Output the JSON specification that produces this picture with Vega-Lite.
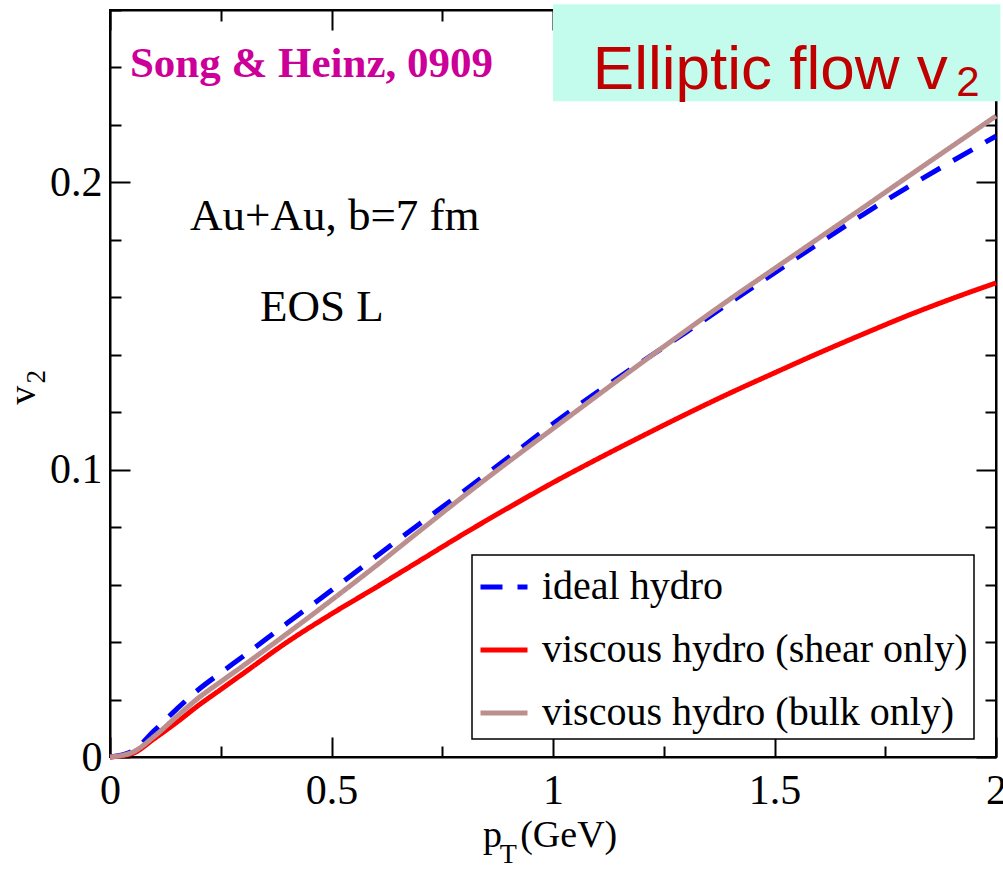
{
  "$schema": "https://vega.github.io/schema/vega-lite/v6.json",
  "width": 886,
  "height": 747,
  "autosize": {"type": "none"},
  "padding": {"left": 110, "top": 10, "right": 7, "bottom": 112},
  "background": "white",
  "config": {
    "view": {"stroke": "black", "strokeWidth": 2},
    "axis": {
      "domainColor": "black",
      "domainWidth": 2,
      "tickColor": "black",
      "tickWidth": 2,
      "grid": false,
      "labelFont": "Liberation Serif",
      "labelFontSize": 42,
      "labelColor": "black",
      "title": null
    },
    "legend": {
      "labelFont": "Liberation Serif",
      "labelFontSize": 40,
      "labelColor": "black",
      "labelLimit": 0,
      "strokeColor": "black",
      "fillColor": "white",
      "strokeWidth": 1.5
    }
  },
  "datasets": {
    "curves": [
      {"pT": 0.0, "v2": 0.0, "model": "ideal hydro"},
      {"pT": 0.05, "v2": 0.0020, "model": "ideal hydro"},
      {"pT": 0.1, "v2": 0.0092, "model": "ideal hydro"},
      {"pT": 0.15, "v2": 0.0166, "model": "ideal hydro"},
      {"pT": 0.2, "v2": 0.0235, "model": "ideal hydro"},
      {"pT": 0.25, "v2": 0.0293, "model": "ideal hydro"},
      {"pT": 0.3, "v2": 0.0350, "model": "ideal hydro"},
      {"pT": 0.4, "v2": 0.0466, "model": "ideal hydro"},
      {"pT": 0.5, "v2": 0.0580, "model": "ideal hydro"},
      {"pT": 0.6, "v2": 0.0697, "model": "ideal hydro"},
      {"pT": 0.7, "v2": 0.0813, "model": "ideal hydro"},
      {"pT": 0.8, "v2": 0.0927, "model": "ideal hydro"},
      {"pT": 0.9, "v2": 0.1043, "model": "ideal hydro"},
      {"pT": 1.0, "v2": 0.1160, "model": "ideal hydro"},
      {"pT": 1.1, "v2": 0.1270, "model": "ideal hydro"},
      {"pT": 1.2, "v2": 0.1375, "model": "ideal hydro"},
      {"pT": 1.3, "v2": 0.1478, "model": "ideal hydro"},
      {"pT": 1.4, "v2": 0.1582, "model": "ideal hydro"},
      {"pT": 1.5, "v2": 0.1685, "model": "ideal hydro"},
      {"pT": 1.6, "v2": 0.1788, "model": "ideal hydro"},
      {"pT": 1.7, "v2": 0.1888, "model": "ideal hydro"},
      {"pT": 1.8, "v2": 0.1983, "model": "ideal hydro"},
      {"pT": 1.9, "v2": 0.2073, "model": "ideal hydro"},
      {"pT": 2.0, "v2": 0.2161, "model": "ideal hydro"},

      {"pT": 0.0, "v2": 0.0, "model": "viscous hydro (shear only)"},
      {"pT": 0.05, "v2": 0.0012, "model": "viscous hydro (shear only)"},
      {"pT": 0.1, "v2": 0.0064, "model": "viscous hydro (shear only)"},
      {"pT": 0.15, "v2": 0.0120, "model": "viscous hydro (shear only)"},
      {"pT": 0.2, "v2": 0.0180, "model": "viscous hydro (shear only)"},
      {"pT": 0.25, "v2": 0.0235, "model": "viscous hydro (shear only)"},
      {"pT": 0.3, "v2": 0.0290, "model": "viscous hydro (shear only)"},
      {"pT": 0.4, "v2": 0.0400, "model": "viscous hydro (shear only)"},
      {"pT": 0.5, "v2": 0.0498, "model": "viscous hydro (shear only)"},
      {"pT": 0.6, "v2": 0.0590, "model": "viscous hydro (shear only)"},
      {"pT": 0.7, "v2": 0.0684, "model": "viscous hydro (shear only)"},
      {"pT": 0.8, "v2": 0.0778, "model": "viscous hydro (shear only)"},
      {"pT": 0.9, "v2": 0.0868, "model": "viscous hydro (shear only)"},
      {"pT": 1.0, "v2": 0.0955, "model": "viscous hydro (shear only)"},
      {"pT": 1.1, "v2": 0.1037, "model": "viscous hydro (shear only)"},
      {"pT": 1.2, "v2": 0.1116, "model": "viscous hydro (shear only)"},
      {"pT": 1.3, "v2": 0.1193, "model": "viscous hydro (shear only)"},
      {"pT": 1.4, "v2": 0.1267, "model": "viscous hydro (shear only)"},
      {"pT": 1.5, "v2": 0.1337, "model": "viscous hydro (shear only)"},
      {"pT": 1.6, "v2": 0.1406, "model": "viscous hydro (shear only)"},
      {"pT": 1.7, "v2": 0.1472, "model": "viscous hydro (shear only)"},
      {"pT": 1.8, "v2": 0.1536, "model": "viscous hydro (shear only)"},
      {"pT": 1.9, "v2": 0.1595, "model": "viscous hydro (shear only)"},
      {"pT": 2.0, "v2": 0.1650, "model": "viscous hydro (shear only)"},

      {"pT": 0.0, "v2": 0.0, "model": "viscous hydro (bulk only)"},
      {"pT": 0.05, "v2": 0.0016, "model": "viscous hydro (bulk only)"},
      {"pT": 0.1, "v2": 0.0072, "model": "viscous hydro (bulk only)"},
      {"pT": 0.15, "v2": 0.0140, "model": "viscous hydro (bulk only)"},
      {"pT": 0.2, "v2": 0.0206, "model": "viscous hydro (bulk only)"},
      {"pT": 0.25, "v2": 0.0262, "model": "viscous hydro (bulk only)"},
      {"pT": 0.3, "v2": 0.0317, "model": "viscous hydro (bulk only)"},
      {"pT": 0.4, "v2": 0.0430, "model": "viscous hydro (bulk only)"},
      {"pT": 0.5, "v2": 0.0546, "model": "viscous hydro (bulk only)"},
      {"pT": 0.6, "v2": 0.0665, "model": "viscous hydro (bulk only)"},
      {"pT": 0.7, "v2": 0.0788, "model": "viscous hydro (bulk only)"},
      {"pT": 0.8, "v2": 0.0910, "model": "viscous hydro (bulk only)"},
      {"pT": 0.9, "v2": 0.1028, "model": "viscous hydro (bulk only)"},
      {"pT": 1.0, "v2": 0.1143, "model": "viscous hydro (bulk only)"},
      {"pT": 1.1, "v2": 0.1258, "model": "viscous hydro (bulk only)"},
      {"pT": 1.2, "v2": 0.1372, "model": "viscous hydro (bulk only)"},
      {"pT": 1.3, "v2": 0.1484, "model": "viscous hydro (bulk only)"},
      {"pT": 1.4, "v2": 0.1594, "model": "viscous hydro (bulk only)"},
      {"pT": 1.5, "v2": 0.1700, "model": "viscous hydro (bulk only)"},
      {"pT": 1.6, "v2": 0.1806, "model": "viscous hydro (bulk only)"},
      {"pT": 1.7, "v2": 0.1912, "model": "viscous hydro (bulk only)"},
      {"pT": 1.8, "v2": 0.2019, "model": "viscous hydro (bulk only)"},
      {"pT": 1.9, "v2": 0.2125, "model": "viscous hydro (bulk only)"},
      {"pT": 2.0, "v2": 0.2231, "model": "viscous hydro (bulk only)"}
    ]
  },
  "layer": [
    {
      "data": {"name": "curves"},
      "mark": {"type": "line", "strokeWidth": 5, "interpolate": "monotone"},
      "encoding": {
        "x": {
          "field": "pT", "type": "quantitative",
          "scale": {"domain": [0, 2], "nice": false, "zero": false},
          "axis": {
            "orient": "bottom",
            "values": [0, 0.25, 0.5, 0.75, 1, 1.25, 1.5, 1.75, 2],
            "tickSize": {"condition": {"test": "datum.value == 0 || datum.value == 0.5 || datum.value == 1 || datum.value == 1.5 || datum.value == 2", "value": -20}, "value": -11},
            "labelPadding": 33,
            "labelFlush": false,
            "labelOverlap": false,
            "labelExpr": "(datum.value == 0 || datum.value == 0.5 || datum.value == 1 || datum.value == 1.5 || datum.value == 2) ? '' + datum.value : ''"
          }
        },
        "y": {
          "field": "v2", "type": "quantitative",
          "scale": {"domain": [0, 0.26], "nice": false, "zero": false},
          "axis": {
            "orient": "left",
            "values": [0, 0.02, 0.04, 0.06, 0.08, 0.1, 0.12, 0.14, 0.16, 0.18, 0.2, 0.22, 0.24, 0.26],
            "tickSize": {"condition": {"test": "datum.value == 0 || datum.value == 0.1 || datum.value == 0.2", "value": -20}, "value": -11},
            "labelPadding": 28,
            "labelFlush": false,
            "labelOverlap": false,
            "labelExpr": "(datum.value == 0 || datum.value == 0.1 || datum.value == 0.2) ? '' + datum.value : ''"
          }
        },
        "color": {
          "field": "model", "type": "nominal",
          "scale": {
            "domain": ["ideal hydro", "viscous hydro (shear only)", "viscous hydro (bulk only)"],
            "range": ["#0000ff", "#ff0000", "#bc8f8f"]
          },
          "legend": {
            "title": null, "orient": "none", "legendX": 362, "legendY": 545,
            "symbolType": "stroke", "symbolSize": 2209, "symbolStrokeWidth": 5,
            "labelFont": "Liberation Serif", "labelFontSize": 40, "labelColor": "black",
            "labelLimit": 0, "labelOffset": 12, "rowPadding": 17, "padding": 6,
            "strokeColor": "black", "fillColor": "white"
          }
        },
        "strokeDash": {
          "field": "model", "type": "nominal",
          "scale": {
            "domain": ["ideal hydro", "viscous hydro (shear only)", "viscous hydro (bulk only)"],
            "range": [[22, 15], [1, 0], [1, 0]]
          },
          "legend": {
            "title": null, "orient": "none", "legendX": 362, "legendY": 545,
            "symbolType": "stroke", "symbolSize": 2209, "symbolStrokeWidth": 5,
            "labelFont": "Liberation Serif", "labelFontSize": 40, "labelColor": "black",
            "labelLimit": 0, "labelOffset": 12, "rowPadding": 17, "padding": 6,
            "strokeColor": "black", "fillColor": "white"
          }
        }
      }
    },
    {
      "data": {"values": [
        {"pT": 0.1806, "v2": 0.1836, "label": "Au+Au, b=7 fm"},
        {"pT": 0.3386, "v2": 0.1516, "label": "EOS L"}
      ]},
      "mark": {"type": "text", "font": "Liberation Serif", "fontSize": 45, "align": "left", "baseline": "alphabetic", "color": "black"},
      "encoding": {
        "x": {"field": "pT", "type": "quantitative", "scale": {"domain": [0, 2], "nice": false, "zero": false}, "axis": null},
        "y": {"field": "v2", "type": "quantitative", "scale": {"domain": [0, 0.26], "nice": false, "zero": false}, "axis": null},
        "text": {"field": "label"}
      }
    },
    {
      "data": {"values": [{"pT": 0.045, "v2": 0.2366, "label": "Song & Heinz, 0909"}]},
      "mark": {"type": "text", "font": "Liberation Serif", "fontSize": 43, "fontWeight": "bold", "align": "left", "baseline": "alphabetic", "color": "#cc0099"},
      "encoding": {
        "x": {"field": "pT", "type": "quantitative", "scale": {"domain": [0, 2], "nice": false, "zero": false}, "axis": null},
        "y": {"field": "v2", "type": "quantitative", "scale": {"domain": [0, 0.26], "nice": false, "zero": false}, "axis": null},
        "text": {"field": "label"}
      }
    },
    {
      "data": {"values": [{"pT": 1.0, "pT2": 2.01, "v2": 0.2282, "v2top": 0.262}]},
      "mark": {"type": "rect", "color": "#c3fcec", "clip": false},
      "encoding": {
        "x": {
          "field": "pT", "type": "quantitative",
          "scale": {"domain": [0, 2], "nice": false, "zero": false},
          "axis": {
            "orient": "top",
            "values": [0, 0.25, 0.5, 0.75, 1, 1.25, 1.5, 1.75, 2],
            "tickSize": {"condition": {"test": "datum.value == 0 || datum.value == 0.5 || datum.value == 1 || datum.value == 1.5 || datum.value == 2", "value": -20}, "value": -11},
            "labels": false
          }
        },
        "x2": {"field": "pT2"},
        "y": {
          "field": "v2", "type": "quantitative",
          "scale": {"domain": [0, 0.26], "nice": false, "zero": false},
          "axis": {
            "orient": "right",
            "values": [0, 0.02, 0.04, 0.06, 0.08, 0.1, 0.12, 0.14, 0.16, 0.18, 0.2, 0.22, 0.24, 0.26],
            "tickSize": {"condition": {"test": "datum.value == 0 || datum.value == 0.1 || datum.value == 0.2", "value": -20}, "value": -11},
            "labels": false
          }
        },
        "y2": {"field": "v2top"}
      }
    },
    {
      "data": {"values": [{"pT": 1.09, "v2": 0.2324, "label": "Elliptic flow v"}]},
      "mark": {"type": "text", "font": "Liberation Sans", "fontSize": 62, "align": "left", "baseline": "alphabetic", "color": "#c00000"},
      "encoding": {
        "x": {"field": "pT", "type": "quantitative", "scale": {"domain": [0, 2], "nice": false, "zero": false}, "axis": null},
        "y": {"field": "v2", "type": "quantitative", "scale": {"domain": [0, 0.26], "nice": false, "zero": false}, "axis": null},
        "text": {"field": "label"}
      }
    },
    {
      "data": {"values": [{"pT": 1.91, "v2": 0.230, "label": "2"}]},
      "mark": {"type": "text", "font": "Liberation Sans", "fontSize": 42, "align": "left", "baseline": "alphabetic", "color": "#c00000"},
      "encoding": {
        "x": {"field": "pT", "type": "quantitative", "scale": {"domain": [0, 2], "nice": false, "zero": false}, "axis": null},
        "y": {"field": "v2", "type": "quantitative", "scale": {"domain": [0, 0.26], "nice": false, "zero": false}, "axis": null},
        "text": {"field": "label"}
      }
    },
    {
      "data": {"values": [
        {"pT": 0.842, "v2": -0.0314, "label": "p"},
        {"pT": 0.926, "v2": -0.0314, "label": "(GeV)"}
      ]},
      "mark": {"type": "text", "font": "Liberation Serif", "fontSize": 38, "align": "left", "baseline": "alphabetic", "color": "black"},
      "encoding": {
        "x": {"field": "pT", "type": "quantitative", "scale": {"domain": [0, 2], "nice": false, "zero": false}, "axis": null},
        "y": {"field": "v2", "type": "quantitative", "scale": {"domain": [0, 0.26], "nice": false, "zero": false}, "axis": null},
        "text": {"field": "label"}
      }
    },
    {
      "data": {"values": [{"pT": 0.880, "v2": -0.0370, "label": "T"}]},
      "mark": {"type": "text", "font": "Liberation Serif", "fontSize": 28, "align": "left", "baseline": "alphabetic", "color": "black"},
      "encoding": {
        "x": {"field": "pT", "type": "quantitative", "scale": {"domain": [0, 2], "nice": false, "zero": false}, "axis": null},
        "y": {"field": "v2", "type": "quantitative", "scale": {"domain": [0, 0.26], "nice": false, "zero": false}, "axis": null},
        "text": {"field": "label"}
      }
    },
    {
      "data": {"values": [{"pT": -0.169, "v2": 0.1226, "label": "v"}]},
      "mark": {"type": "text", "font": "Liberation Serif", "fontSize": 38, "angle": 270, "align": "left", "baseline": "alphabetic", "color": "black"},
      "encoding": {
        "x": {"field": "pT", "type": "quantitative", "scale": {"domain": [0, 2], "nice": false, "zero": false}, "axis": null},
        "y": {"field": "v2", "type": "quantitative", "scale": {"domain": [0, 0.26], "nice": false, "zero": false}, "axis": null},
        "text": {"field": "label"}
      }
    },
    {
      "data": {"values": [{"pT": -0.147, "v2": 0.1300, "label": "2"}]},
      "mark": {"type": "text", "font": "Liberation Serif", "fontSize": 27, "angle": 270, "align": "left", "baseline": "alphabetic", "color": "black"},
      "encoding": {
        "x": {"field": "pT", "type": "quantitative", "scale": {"domain": [0, 2], "nice": false, "zero": false}, "axis": null},
        "y": {"field": "v2", "type": "quantitative", "scale": {"domain": [0, 0.26], "nice": false, "zero": false}, "axis": null},
        "text": {"field": "label"}
      }
    }
  ],
  "resolve": {"axis": {"x": "independent", "y": "independent"}}
}
